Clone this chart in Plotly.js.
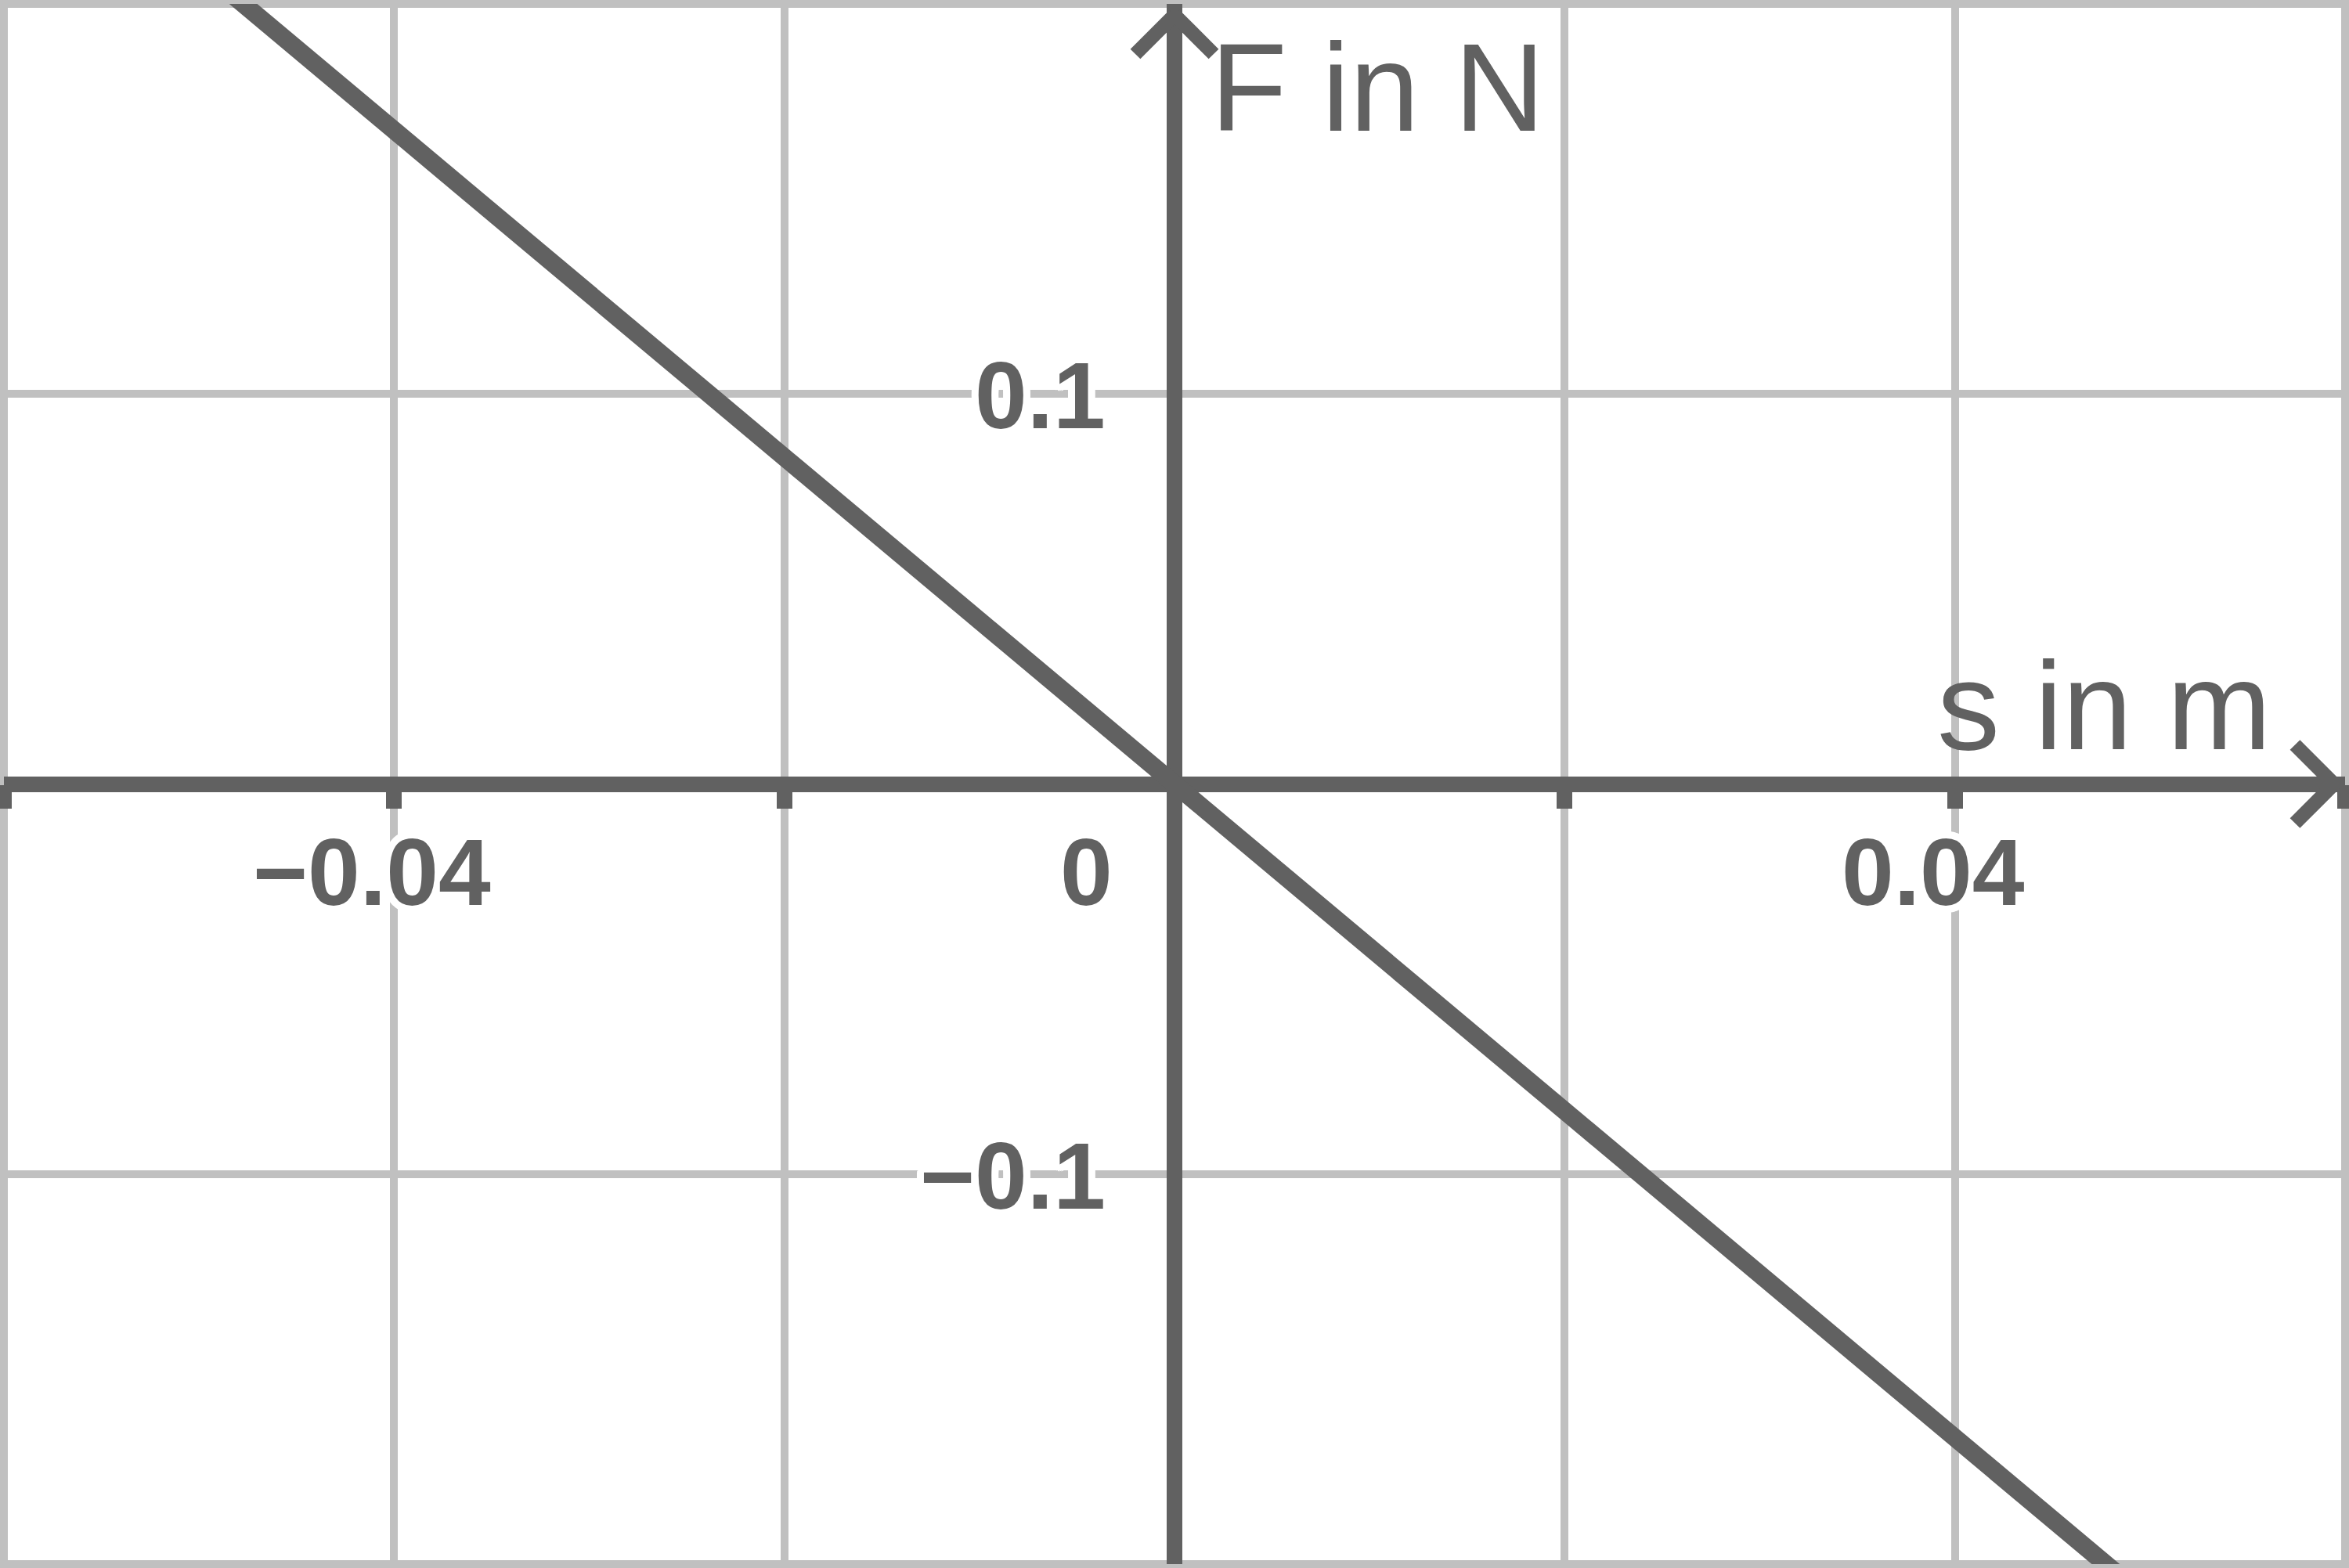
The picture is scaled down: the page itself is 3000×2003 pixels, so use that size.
<!DOCTYPE html>
<html>
<head>
<meta charset="utf-8">
<script src="https://cdn.plot.ly/plotly-3.0.1.min.js"></script>
<style>html,body{margin:0;padding:0;background:#fff;}#chart{width:3000px;height:2003px;}</style>
</head>
<body>
<div id="chart"></div>
<script>
// ---- data ----
const sValues = [-0.05, 0.05];          // displacement s in m
const fValues = [0.2095, -0.2095];      // force F in N
const xGridVals = [-0.06, -0.04, -0.02, 0, 0.02, 0.04, 0.06];
const yGridVals = [-0.2, -0.1, 0, 0.1, 0.2];
const xTickVals = [-0.04, 0, 0.04];
const xTickText = ['\u22120.04', '0', '0.04'];
const yTickVals = [0.1, -0.1];
const yTickText = ['0.1', '\u22120.1'];
const xTitle = 's in m';
const yTitle = 'F in N';

// ---- style ----
const dark = '#616161';
const grid = '#c0c0c0';
const W = 3000, H = 2003;

function halo(r) {
  const parts = [];
  for (let i = 0; i < 24; i++) {
    const a = i / 24 * 2 * Math.PI;
    parts.push((r * Math.cos(a)).toFixed(1) + 'px ' + (r * Math.sin(a)).toFixed(1) + 'px 0 #fff');
  }
  return parts.join(', ');
}
const tickFont = {family: 'Liberation Sans, Arial, sans-serif', size: 120, color: dark, weight: 700, shadow: halo(9)};
const titleFont = {family: 'Liberation Sans, Arial, sans-serif', size: 160, color: dark};

const annotations = [];
xTickVals.forEach((v, i) => {
  annotations.push({
    x: v, y: 0, xref: 'x', yref: 'y', text: xTickText[i], showarrow: false,
    xanchor: 'center', yanchor: 'middle',
    xshift: v === 0 ? -113 : -28, yshift: -112, font: tickFont
  });
});
yTickVals.forEach((v, i) => {
  annotations.push({
    x: 0, y: v, xref: 'x', yref: 'y', text: yTickText[i], showarrow: false,
    xanchor: 'right', yanchor: 'middle',
    xshift: -86, yshift: -2, font: tickFont
  });
});
annotations.push({
  x: 0, y: 1, xref: 'x', yref: 'paper', text: yTitle, showarrow: false,
  xanchor: 'left', yanchor: 'middle', xshift: 44, yshift: -106, font: titleFont
});
annotations.push({
  x: 0, y: 0, xref: 'x', yref: 'y', text: xTitle, showarrow: false,
  xanchor: 'left', yanchor: 'middle', xshift: 972, yshift: 100, font: titleFont
});

const shapes = [
  {type: 'rect', xref: 'paper', yref: 'paper', x0: 0, x1: 1, y0: 0, y1: 1,
   line: {color: grid, width: 10}, layer: 'below'},
  {type: 'path', xref: 'x', yref: 'paper', xsizemode: 'pixel', ysizemode: 'pixel',
   xanchor: 0, yanchor: 1, path: 'M -50,-64 L 0,-14 M 0,-14 L 50,-64',
   line: {color: dark, width: 18}, layer: 'above'},
  {type: 'path', xref: 'paper', yref: 'y', xsizemode: 'pixel', ysizemode: 'pixel',
   xanchor: 1, yanchor: 0, path: 'M -64,50 L -14,0 M -14,0 L -64,-50',
   line: {color: dark, width: 18}, layer: 'above'}
];

const traces = [{
  x: sValues, y: fValues, type: 'scatter', mode: 'lines',
  line: {color: dark, width: 23}, hoverinfo: 'skip', showlegend: false
}];

const layout = {
  width: W, height: H,
  margin: {l: 5, r: 5, t: 5, b: 5, pad: 0},
  paper_bgcolor: '#fff', plot_bgcolor: '#fff',
  showlegend: false,
  xaxis: {
    range: [-0.06, 0.06], tickmode: 'array', tickvals: xGridVals,
    showticklabels: false, ticks: 'outside', ticklen: 30, tickwidth: 20, tickcolor: dark,
    showgrid: true, gridcolor: grid, gridwidth: 10,
    zeroline: true, zerolinecolor: dark, zerolinewidth: 20,
    showline: false, anchor: 'free', position: 0.5, fixedrange: true
  },
  yaxis: {
    range: [-0.2, 0.2], tickmode: 'array', tickvals: yGridVals,
    showticklabels: false, ticks: '',
    showgrid: true, gridcolor: grid, gridwidth: 10,
    zeroline: true, zerolinecolor: dark, zerolinewidth: 20,
    showline: false, fixedrange: true
  },
  shapes: shapes,
  annotations: annotations
};

Plotly.newPlot('chart', traces, layout, {staticPlot: true, displayModeBar: false});
</script>
</body>
</html>
